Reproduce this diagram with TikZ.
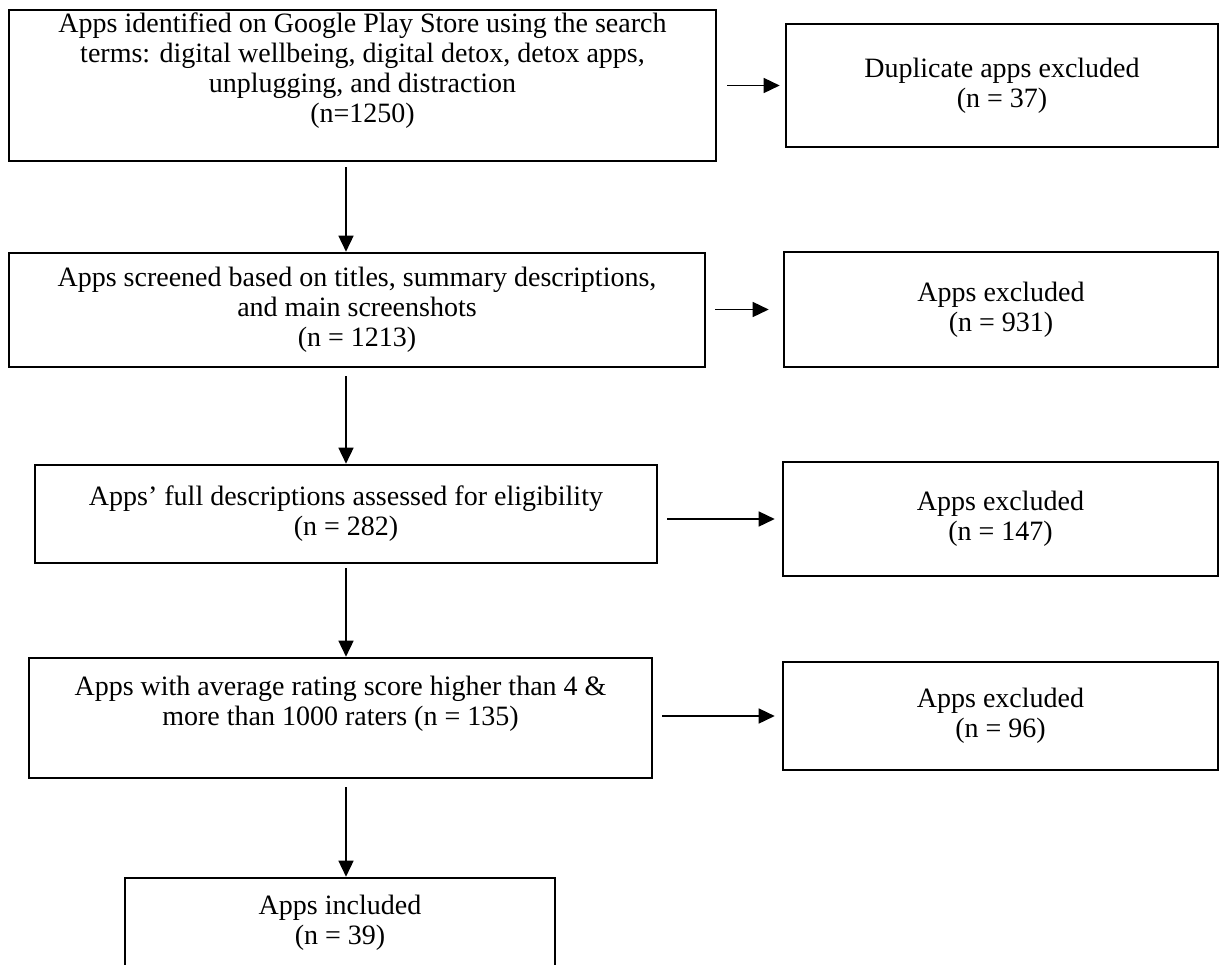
\documentclass[tikz,border=0pt]{standalone}
\usepackage{fontspec}
\setmainfont{Liberation Serif}
\usetikzlibrary{arrows.meta,positioning,calc}

\begin{document}
\begin{tikzpicture}[x=0.5pt, y=-0.5pt,
  stagebox/.style={draw=black, line width=1.3pt, fill=white, align=center, inner sep=0pt, font=\fontsize{14}{15}\selectfont},
  stagetext/.style={align=center, inner sep=0pt, font=\fontsize{14}{15}\selectfont},
  flow/.style={-{Triangle[length=8pt, width=7.5pt]}, line width=0.75pt}]
  \useasboundingbox (0,0) rectangle (1220,964);
  \coordinate (spine) at (346,0);

  % Main column
  \node[stagebox, minimum width=353.5pt, minimum height=75.5pt] (ident) at (362.5,85.5) {};
  \node[stagetext] (ident-text) at ($(ident.center)+(0,-15)$) {Apps identified on Google Play Store using the search\\terms: digital wellbeing, digital detox, detox apps,\\unplugging, and distraction\\(n=1250)};
  \node[stagebox, minimum width=348pt, minimum height=57pt] (screen) at (357,310) {Apps screened based on titles, summary descriptions,\\and main screenshots\\(n = 1213)};
  \node[stagebox, minimum width=311pt, minimum height=49pt] (full) at (346,514) {Apps’ full descriptions assessed for eligibility\\(n = 282)};
  \node[stagebox, minimum width=311.5pt, minimum height=60pt] (rating) at (340.5,718) {};
  \node[stagetext] (rating-text) at ($(rating.center)+(0,-14)$) {Apps with average rating score higher than 4 \&\\more than 1000 raters (n = 135)};
  \node[stagebox, minimum width=215pt, minimum height=45pt] (incl) at (340,923) {Apps included\\(n = 39)};

  % Exclusions
  \node[stagebox, minimum width=216pt, minimum height=61.5pt] (dup) at (1002,85.5) {Duplicate apps excluded\\(n = 37)};
  \node[stagebox, minimum width=217pt, minimum height=57.5pt] (excl1) at (1001,309.5) {Apps excluded\\(n = 931)};
  \node[stagebox, minimum width=217.5pt, minimum height=57pt] (excl2) at (1000.5,519) {Apps excluded\\(n = 147)};
  \node[stagebox, minimum width=217.5pt, minimum height=54pt] (excl3) at (1000.5,716) {Apps excluded\\(n = 96)};

  % Downward flow
  \draw[flow, shorten <=2.5pt] (ident.south -| spine) -- (screen.north -| spine);
  \draw[flow, shorten <=4pt] (screen.south -| spine) -- (full.north -| spine);
  \draw[flow, shorten <=2pt] (full.south -| spine) -- (rating.north -| spine);
  \draw[flow, shorten <=4pt] (rating.south -| spine) -- (incl.north -| spine);

  % Sideways flow
  \draw[flow, shorten <=5pt, shorten >=2.5pt] (ident.east |- dup.west) -- (dup.west);
  \draw[flow, shorten <=4.5pt, shorten >=7pt] (screen.east |- excl1.west) -- (excl1.west);
  \draw[flow, shorten <=4.5pt, shorten >=3.5pt] (full.east |- excl2.west) -- (excl2.west);
  \draw[flow, shorten <=4.5pt, shorten >=3.5pt] (rating.east |- excl3.west) -- (excl3.west);
\end{tikzpicture}
\end{document}
